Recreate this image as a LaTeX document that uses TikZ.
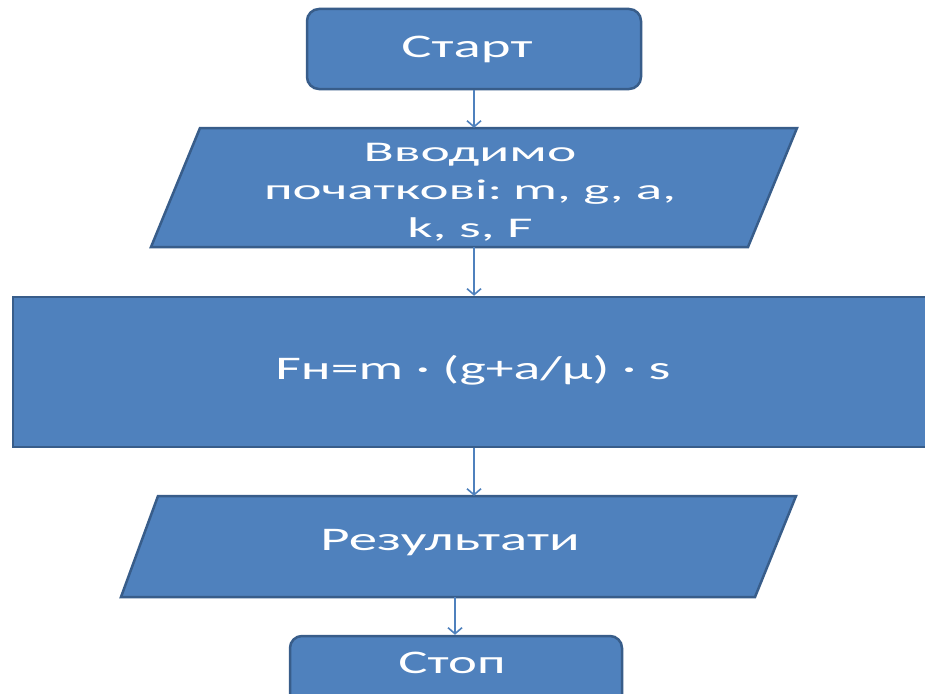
\documentclass[tikz,border=0pt]{standalone}
\usepackage{fontspec}
\setmainfont{Carlito}
\usetikzlibrary{arrows.meta}
\definecolor{boxfill}{HTML}{4F81BD}
\definecolor{boxline}{HTML}{385D8A}
\newcommand{\sx}[2]{\scalebox{#1}[1]{#2}}
\begin{document}
\begin{tikzpicture}[x=1pt,y=-1pt,
  shapeline/.style={draw=boxline,line width=2.5pt,fill=boxfill},
  term/.style={shapeline,rounded corners=12pt,inner sep=0pt},
  anchorbox/.style={inner sep=0pt,text=white},
  lbl/.style={text=white,font=\fontsize{33}{38}\selectfont,inner sep=0pt},
  conn/.style={draw=boxfill,line width=2pt,-{Straight Barb[length=6pt,width=14pt,line width=1.6pt]}}]
\clip (0,0) rectangle (925,693);
\fill[white] (0,0) rectangle (925,693);
% Start
\node[term,minimum width=334pt,minimum height=80pt] (start) at (474,49) {};
\node[lbl] (startt) at (467,49) {\sx{1.72}{Старт}};
% Input parallelogram
\draw[shapeline] (200,128) -- (797,128) -- (748,247) -- (151,247) -- cycle;
\node[anchorbox,minimum width=597pt,minimum height=119pt] (in) at (474,187.5) {};
\node[lbl,align=center,font=\fontsize{28.5}{38}\selectfont] (int) at (470,192)
  {\sx{1.95}{Вводимо}\\ \sx{1.93}{початкові:\hspace{-3pt} m, g, a,}\\ \sx{1.95}{k, s, F}};
% Process
\node[shapeline,minimum width=922pt,minimum height=150pt,inner sep=0pt] (proc) at (474,372) {};
\node[lbl] (proct) at (473,370) {\sx{1.69}{Fн=m · (g+a/μ) · s}};
% Output parallelogram
\draw[shapeline] (158,496) -- (796,496) -- (755,597) -- (121,597) -- cycle;
\node[anchorbox,minimum width=600pt,minimum height=101pt] (out) at (457,546.5) {};
\node[lbl] (outt) at (450,543) {\sx{1.72}{Результати}};
% Stop
\node[term,minimum width=332pt,minimum height=74pt] (stop) at (456,673) {};
\node[lbl] (stopt) at (452,663) {\sx{1.66}{Стоп}};
% Connectors
\draw[conn] (start.south) -- (in.north);
\draw[conn] (in.south) -- (proc.north);
\draw[conn] (proc.south) -- (proc.south |- out.north);
\draw[conn] ([xshift=-2pt]out.south) -- ([xshift=-1pt]stop.north);
\end{tikzpicture}
\end{document}
